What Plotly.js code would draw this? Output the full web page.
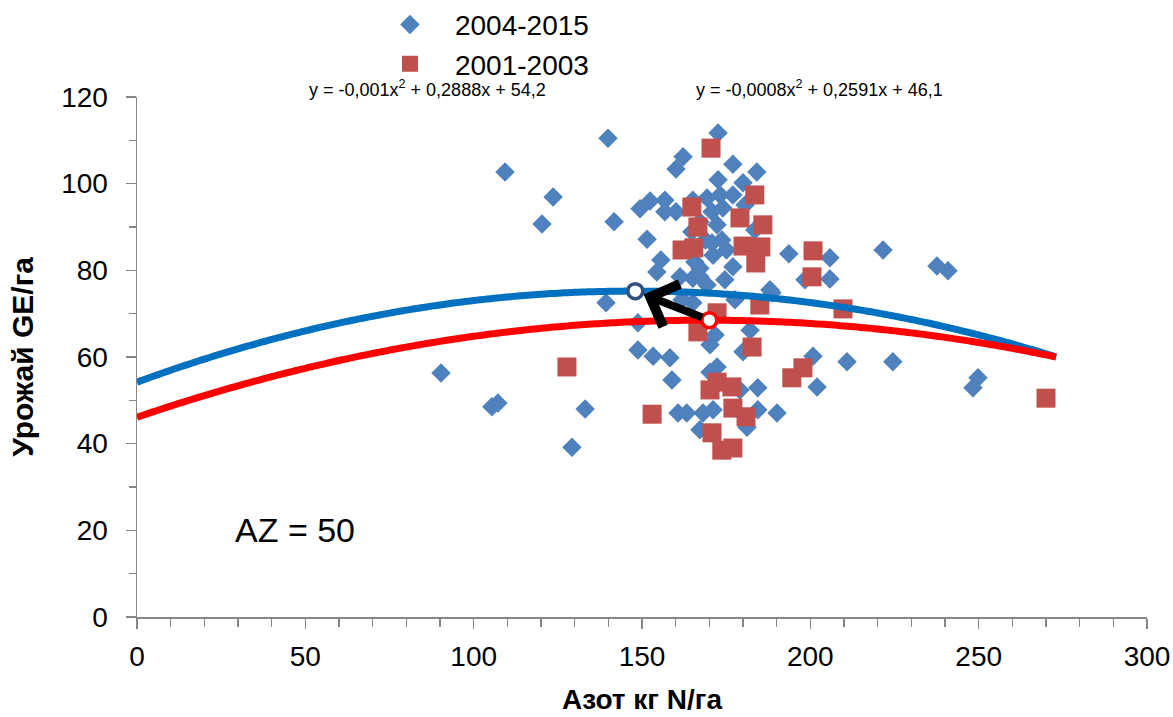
<!DOCTYPE html>
<html>
<head>
<meta charset="utf-8">
<script src="https://cdn.plot.ly/plotly-3.0.1.min.js"></script>
<style>html,body{margin:0;padding:0;background:#fff;}#chart{width:1173px;height:717px;}</style>
</head>
<body>
<div id="chart"></div>
<script>
// Series names
const seriesNames = ['2004-2015', '2001-2003'];

// 2004-2015 (blue diamonds)
const blueX = [90.3,105.4,107.2,109.3,120.3,123.6,129.2,133.1,139.3,139.9,141.7,148.8,148.8,149.4,151.5,152.4,153.3,154.4,155.6,156.8,156.8,158.3,158.9,160.1,162.2,160.1,160.7,161.3,165.1,167.2,165.1,167.2,172.6,177.0,184.1,172.6,180.0,169.3,173.2,177.0,170.8,174.0,172.3,173.7,170.8,171.1,177.0,188.0,193.6,205.8,221.6,237.6,240.9,198.4,205.8,188.6,200.8,210.9,224.5,202.0,249.8,248.3,190.1,171.7,170.2,182.1,180.0,172.3,170.2,184.4,163.3,168.1,171.1,167.2,184.4,181.2,179.1,165.1,167.2,175.1,168.8,165.7,174.6,177.6,180.6,183.5,161.9,169.3,164.8];
const blueY = [56.3,48.5,49.4,102.7,90.7,96.9,39.2,48.0,72.5,110.5,91.2,67.9,61.6,94.2,87.2,96.0,60.2,79.6,82.4,96.2,93.5,59.8,54.7,103.4,106.2,93.5,47.1,78.5,72.5,80.5,78.2,78.5,111.7,104.5,102.7,100.9,100.2,96.7,97.4,97.4,93.5,94.4,90.5,87.0,86.3,83.5,80.8,75.5,83.8,82.9,84.7,81.0,79.9,77.8,78.0,74.8,60.2,58.9,58.9,53.1,55.2,52.9,47.1,65.1,62.8,66.2,61.2,57.7,56.5,52.9,47.1,47.1,47.8,43.2,47.8,43.8,52.4,96.2,91.2,84.7,87.0,81.9,77.8,73.2,95.1,89.3,73.2,76.6,88.9];

// 2001-2003 (red squares)
const redX = [170.5,164.8,166.6,161.9,165.4,183.5,179.1,185.9,180.0,185.3,183.8,200.8,200.5,185.0,209.7,172.3,166.6,182.7,127.7,153.0,170.2,172.3,176.7,177.0,180.9,170.8,173.7,177.0,194.5,197.8,270.0];
const redY = [108.2,94.6,90.0,84.7,85.2,97.4,92.1,90.5,85.6,85.4,81.7,84.5,78.5,72.0,71.1,70.2,65.8,62.3,57.7,46.8,52.4,54.2,53.1,48.2,46.2,42.5,38.5,39.0,55.2,57.5,50.5];

// Polynomial trend lines (a, b, c) as drawn, and their x span
const blueFit = [-0.000965, 0.2848, 54.2];
const redFit  = [-0.000785, 0.2652, 46.1];
const fitXMax = 273;

// Optimum markers
const blueOpt = [148, 75.2];
const redOpt  = [170, 68.5];

// Labels
const eqBlue = 'y = -0,001x<sup>2</sup> + 0,2888x + 54,2';
const eqRed  = 'y = -0,0008x<sup>2</sup> + 0,2591x + 46,1';
const azLabel = 'AZ = 50';
const xTitle = 'Азот кг N/га';
const yTitle = 'Урожай GE/га';

function curve(c) {
  const xs = [], ys = [];
  for (let x = 0; x <= fitXMax; x += 1) { xs.push(x); ys.push(c[0]*x*x + c[1]*x + c[2]); }
  return {xs, ys};
}
const bc = curve(blueFit), rc = curve(redFit);

const FONT = 'Liberation Sans, Arial, sans-serif';
const AX = '#868686';

const traces = [
  {x: blueX, y: blueY, type: 'scatter', mode: 'markers', name: seriesNames[0],
   marker: {symbol: 'diamond', size: 15, color: '#4F81BD'}},
  {x: redX, y: redY, type: 'scatter', mode: 'markers', name: seriesNames[1],
   marker: {symbol: 'square', size: 19, color: '#C0504D'}},
  {x: bc.xs, y: bc.ys, type: 'scatter', mode: 'lines', showlegend: false,
   line: {color: '#0070C0', width: 7, simplify: false}},
  {x: rc.xs, y: rc.ys, type: 'scatter', mode: 'lines', showlegend: false,
   line: {color: '#FF0000', width: 7, simplify: false}},
  {x: [blueOpt[0]], y: [blueOpt[1]], type: 'scatter', mode: 'markers', showlegend: false,
   marker: {symbol: 'circle', size: 15, color: '#FFFFFF', line: {color: '#2F4F7F', width: 3.5}}},
  {x: [redOpt[0]], y: [redOpt[1]], type: 'scatter', mode: 'markers', showlegend: false,
   marker: {symbol: 'circle', size: 15, color: '#FFFFFF', line: {color: '#FF0000', width: 3.5}}}
];

const layout = {
  width: 1173, height: 717,
  margin: {l: 137, r: 26, t: 97, b: 100, autoexpand: false},
  paper_bgcolor: '#fff', plot_bgcolor: '#fff',
  font: {family: FONT, color: '#000'},
  showlegend: true,
  legend: {x: 0.2257, y: 1.187, xanchor: 'left', yanchor: 'top',
           bgcolor: 'rgba(0,0,0,0)', font: {size: 28, family: FONT}, itemwidth: 80, tracegroupgap: 0},
  xaxis: {range: [0, 300], tick0: 0, dtick: 50, showgrid: false, zeroline: false, automargin: false,
          showline: true, linecolor: AX, linewidth: 1.5,
          ticks: 'outside', ticklen: 10, tickwidth: 1.5, tickcolor: AX,
          minor: {dtick: 10, ticks: 'outside', ticklen: 8, tickwidth: 1.5, tickcolor: AX},
          tickfont: {size: 28, family: FONT}, ticklabelstandoff: 4,
          title: {text: xTitle, font: {size: 28, family: FONT, weight: 'bold'}, standoff: 18}},
  yaxis: {range: [0, 120], tick0: 0, dtick: 20, showgrid: false, zeroline: false, automargin: false,
          showline: true, linecolor: AX, linewidth: 1.5,
          ticks: 'outside', ticklen: 10, tickwidth: 1.5, tickcolor: AX,
          minor: {dtick: 10, ticks: 'outside', ticklen: 7, tickwidth: 1.5, tickcolor: AX},
          tickfont: {size: 28, family: FONT}, ticklabelstandoff: 12,
          title: {text: yTitle, font: {size: 30, family: FONT, weight: 'bold'}, standoff: 18}},
  annotations: [
    {x: 47, y: 20, xref: 'x', yref: 'y', text: azLabel, showarrow: false,
     font: {size: 34, family: FONT}},
    {x: 0.288, y: 1.017, xref: 'paper', yref: 'paper', xanchor: 'center', yanchor: 'middle',
     text: eqBlue, showarrow: false, font: {size: 18, family: FONT}},
    {x: 0.676, y: 1.017, xref: 'paper', yref: 'paper', xanchor: 'center', yanchor: 'middle',
     text: eqRed, showarrow: false, font: {size: 18, family: FONT}},
    {x: blueOpt[0], y: blueOpt[1], ax: redOpt[0], ay: redOpt[1], axref: 'x', ayref: 'y',
     xref: 'x', yref: 'y', text: '', showarrow: true, arrowhead: 4, arrowsize: 1.1,
     arrowwidth: 8, arrowcolor: '#000', standoff: 9, startstandoff: 6}
  ]
};

Plotly.newPlot('chart', traces, layout, {displayModeBar: false, staticPlot: true});
</script>
</body>
</html>
